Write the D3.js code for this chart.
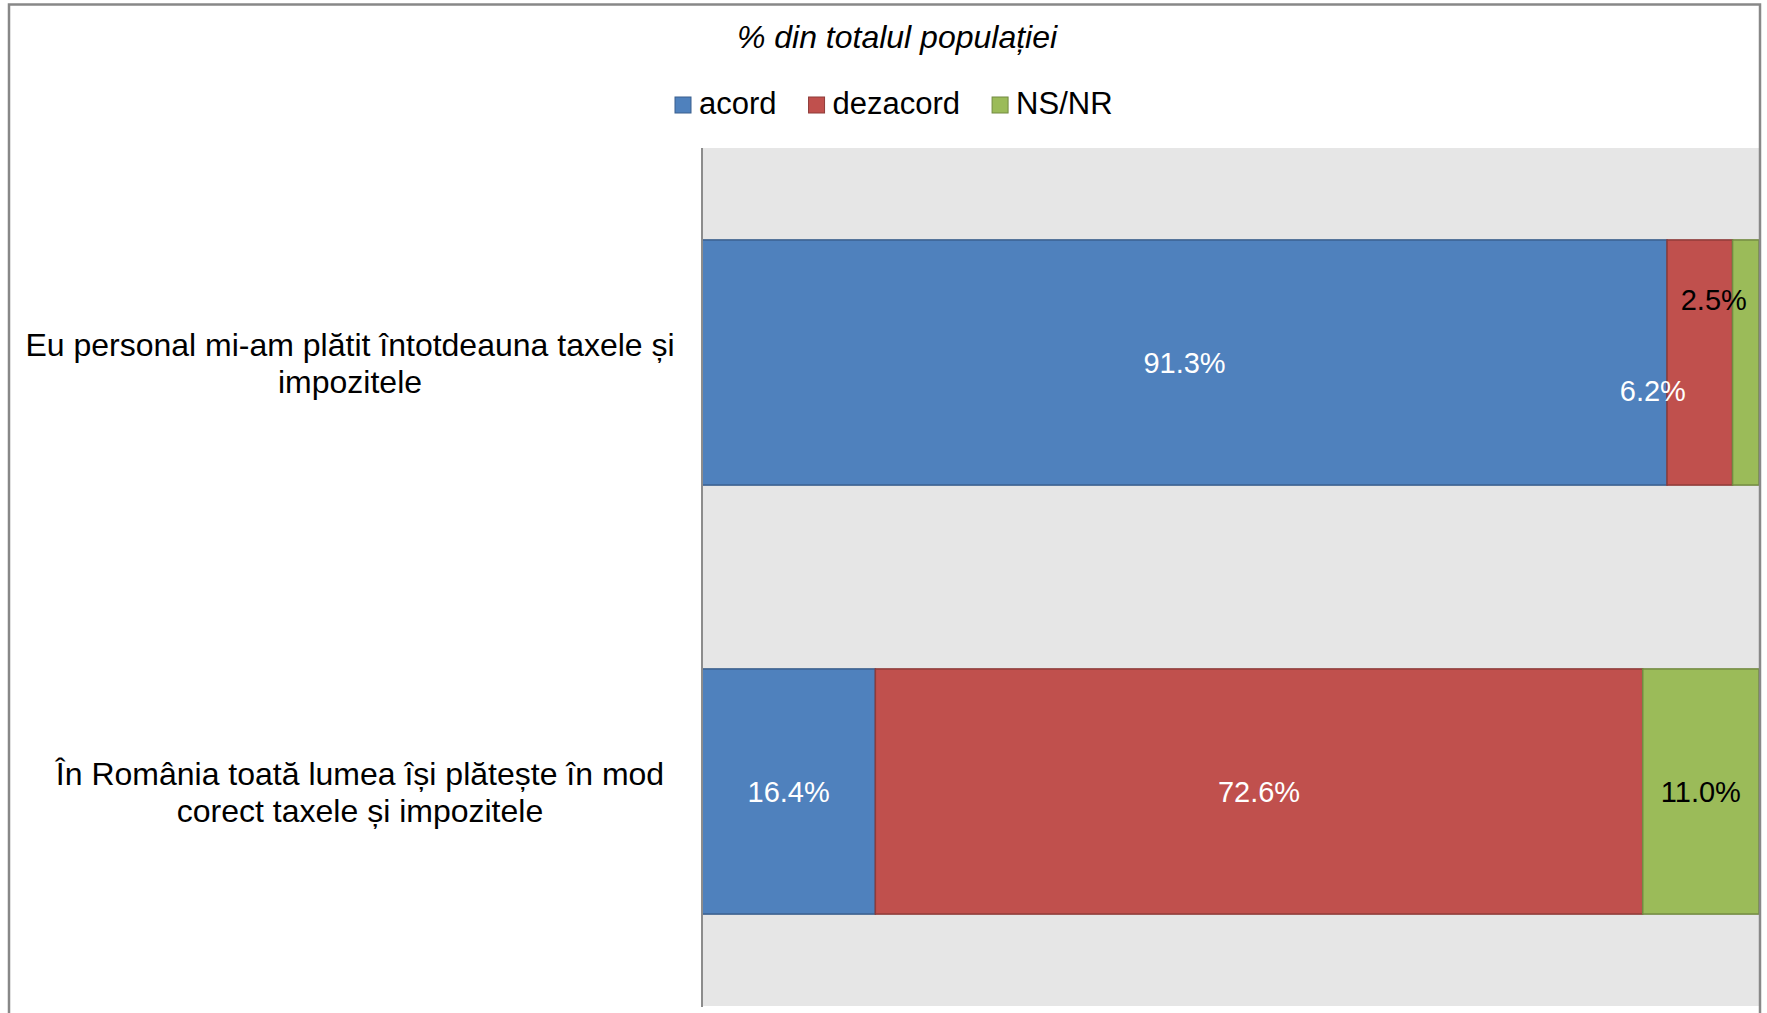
<!DOCTYPE html>
<html>
<head>
<meta charset="utf-8">
<script src="https://cdn.jsdelivr.net/npm/d3@7"></script>
<style>
  body { margin: 0; background: #fff; }
  svg text { font-family: "Liberation Sans", Arial, sans-serif; }
</style>
</head>
<body>
<div id="chart" style="width:1767px;height:1013px;"></div>
<script>
// Chart data
const categories = [
    'Eu personal mi-am plătit întotdeauna taxele și\nimpozitele',
    'În România toată lumea își plătește în mod\ncorect taxele și impozitele'
];
const seriesNames = ['acord', 'dezacord', 'NS/NR'];
const acord = [91.3, 16.4];
const dezacord = [6.2, 72.6];
const nsnr = [2.5, 11.0];
const chartTitle = '% din totalul populației';

class StackedBarChart {
    constructor(containerId) {
        this.container = document.getElementById(containerId);
        this.width = 1767;
        this.height = 1013;

        this.svg = d3.select(this.container)
            .append('svg')
            .attr('width', this.width)
            .attr('height', this.height);

        this.plot = { left: 702, right: 1759, top: 148, bottom: 1006 };
        this.colors = {
            'acord': { fill: '#4F81BD', stroke: '#3A5F8D', text: '#fff' },
            'dezacord': { fill: '#C0504D', stroke: '#8E3B39', text: '#fff' },
            'NS/NR': { fill: '#9BBB59', stroke: '#728A41', text: '#000' }
        };
        // Excel moved a couple of small labels off their segments
        this.labelNudge = { 'dezacord-0': [-47, 28], 'NS/NR-0': [-32, -63] };
        // wrapped category labels are not centred on the same x
        this.catLabelX = [350, 360];

        this.x = d3.scaleLinear()
            .domain([0, 100])
            .range([this.plot.left, this.plot.right]);
        this.y = d3.scaleBand()
            .domain(categories)
            .range([this.plot.top, this.plot.bottom])
            .paddingInner(0.75 / 1.75)
            .paddingOuter(0.75 / 1.75 / 2);

        this.draw();
    }

    draw() {
        const svg = this.svg;
        const p = this.plot;

        // plot background
        svg.append('rect')
            .attr('x', p.left).attr('y', p.top)
            .attr('width', p.right - p.left).attr('height', p.bottom - p.top)
            .attr('fill', '#E6E6E6');

        // stacked data
        const rows = categories.map((c, i) => ({
            category: c,
            'acord': acord[i],
            'dezacord': dezacord[i],
            'NS/NR': nsnr[i]
        }));
        const stacked = d3.stack().keys(seriesNames)(rows);

        const groups = svg.selectAll('.series')
            .data(stacked)
            .enter()
            .append('g')
            .attr('class', 'series');

        groups.selectAll('rect')
            .data(d => d.map(v => ({ key: d.key, v })))
            .enter()
            .append('rect')
            .attr('x', d => this.x(d.v[0]))
            .attr('y', d => this.y(d.v.data.category))
            .attr('width', d => this.x(d.v[1]) - this.x(d.v[0]))
            .attr('height', this.y.bandwidth())
            .attr('fill', d => this.colors[d.key].fill)
            .attr('stroke', d => this.colors[d.key].stroke)
            .attr('stroke-width', 1.5);

        // data labels
        groups.selectAll('text')
            .data(d => d.map((v, i) => ({ key: d.key, v, i })))
            .enter()
            .append('text')
            .attr('x', d => {
                const n = this.labelNudge[d.key + '-' + d.i] || [0, 0];
                return this.x((d.v[0] + d.v[1]) / 2) + n[0];
            })
            .attr('y', d => {
                const n = this.labelNudge[d.key + '-' + d.i] || [0, 0];
                return this.y(d.v.data.category) + this.y.bandwidth() / 2 + 10.5 + n[1];
            })
            .attr('text-anchor', 'middle')
            .attr('font-size', '29px')
            .attr('fill', d => this.colors[d.key].text)
            .text(d => (d.v[1] - d.v[0]).toFixed(1) + '%');

        // vertical axis line
        svg.append('line')
            .attr('x1', p.left).attr('x2', p.left)
            .attr('y1', p.top).attr('y2', p.bottom + 1)
            .attr('stroke', '#8C8C8C')
            .attr('stroke-width', 2);

        // category labels
        const lineH = 37;
        svg.selectAll('.cat-label')
            .data(categories)
            .enter()
            .append('text')
            .attr('class', 'cat-label')
            .attr('font-size', '32px')
            .attr('fill', '#000')
            .attr('text-anchor', 'middle')
            .each((d, i, nodes) => {
                const lines = d.split('\n');
                const cy = this.y(d) + this.y.bandwidth() / 2;
                const first = cy - (lines.length - 1) * lineH / 2 + 11.5;
                d3.select(nodes[i]).selectAll('tspan')
                    .data(lines)
                    .enter()
                    .append('tspan')
                    .attr('x', this.catLabelX[i])
                    .attr('y', (l, j) => first + j * lineH)
                    .text(l => l);
            });

        // title
        svg.append('text')
            .attr('x', 897).attr('y', 48)
            .attr('text-anchor', 'middle')
            .attr('font-size', '32px')
            .attr('font-style', 'italic')
            .attr('fill', '#000')
            .text(chartTitle);

        // legend
        const legend = svg.append('g');
        let lx = 675;
        seriesNames.forEach(name => {
            legend.append('rect')
                .attr('x', lx).attr('y', 97)
                .attr('width', 16).attr('height', 16)
                .attr('fill', this.colors[name].fill)
                .attr('stroke', this.colors[name].stroke)
                .attr('stroke-width', 1);
            const t = legend.append('text')
                .attr('x', lx + 24).attr('y', 114)
                .attr('font-size', '31px')
                .attr('fill', '#000')
                .text(name);
            lx += 24 + t.node().getComputedTextLength() + 32;
        });

        // chart outer border
        svg.append('rect')
            .attr('x', 9).attr('y', 4.5)
            .attr('width', 1751).attr('height', 1100)
            .attr('fill', 'none')
            .attr('stroke', '#888')
            .attr('stroke-width', 2.5);
    }
}

new StackedBarChart('chart');
</script>
</body>
</html>
